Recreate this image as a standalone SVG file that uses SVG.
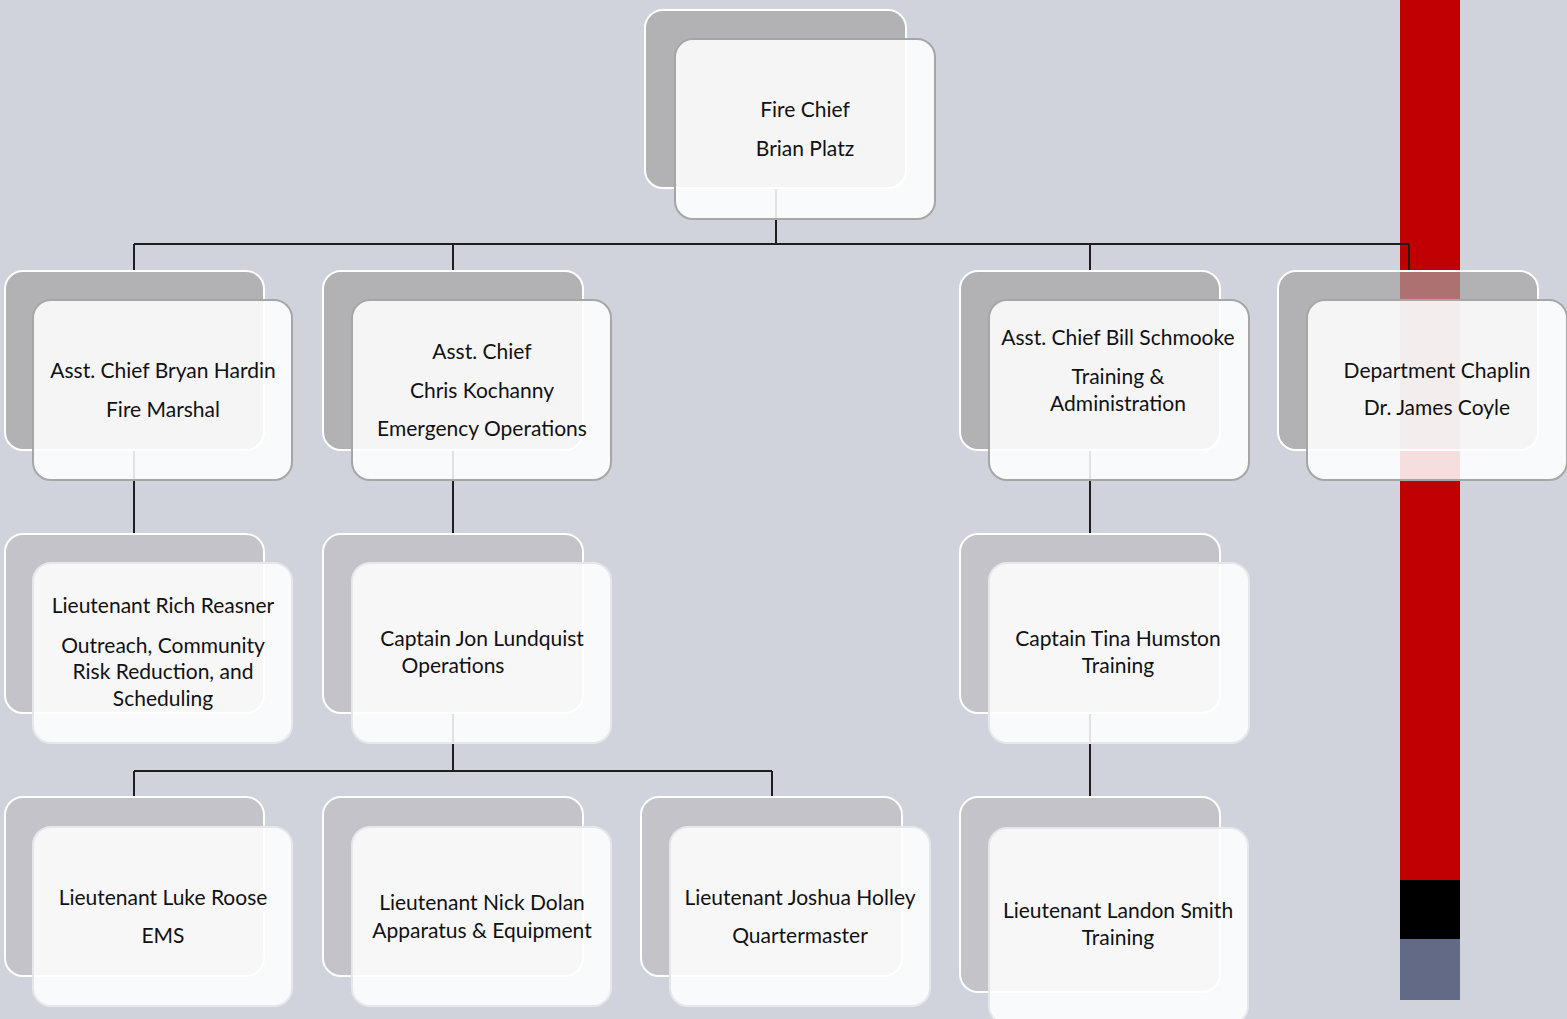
<svg xmlns="http://www.w3.org/2000/svg" width="1567" height="1019" viewBox="0 0 1567 1019">
<style>
.bk{fill:#A3A3A3;fill-opacity:0.69;stroke:#FFFFFF;stroke-width:2}
.bk2{fill:#BCBDC0;fill-opacity:0.69;stroke:#FFFFFF;stroke-width:2}
.fr{fill:#FFFFFF;fill-opacity:0.87;stroke:#A6A6A6;stroke-width:2}
.fr2{fill:#FFFFFF;fill-opacity:0.87;stroke:#E6E7EA;stroke-width:2}
text{font-family:Lato,"Liberation Sans",sans-serif;font-size:21px;fill:#111111;text-anchor:middle}
.cn{fill:none;stroke:#1E1E1E;stroke-width:2}
</style>
<rect x="0" y="0" width="1567" height="1019" fill="#D0D3DB"/>
<rect x="1400" y="0" width="60" height="880" fill="#C00000"/>
<rect x="1400" y="880" width="60" height="59" fill="#000000"/>
<rect x="1400" y="939" width="60" height="61" fill="#636A86"/>
<g id="connectors">
<path class="cn" d="M776 188V244M134 244H1409M134 244V271M453 244V271M1090 244V271M1409 244V271"/>
<path class="cn" d="M134 450V534M453 450V534M1090 450V534"/>
<path class="cn" d="M453 713V771M134 771H772M134 771V797M772 771V797"/>
<path class="cn" d="M1090 713V797"/>
</g>
<g id="fire-chief">
<rect class="bk" x="645" y="10" width="261" height="178" rx="18"/>
<rect class="fr" x="675" y="39" width="260" height="180" rx="18"/>
<text x="805" y="117">Fire Chief</text>
<text x="805" y="156">Brian Platz</text>
</g>
<g id="hardin">
<rect class="bk" x="5" y="271" width="259" height="179" rx="18"/>
<rect class="fr" x="33" y="300" width="259" height="180" rx="18"/>
<text x="163" y="378">Asst. Chief Bryan Hardin</text>
<text x="163" y="417">Fire Marshal</text>
</g>
<g id="kochanny">
<rect class="bk" x="323" y="271" width="260" height="179" rx="18"/>
<rect class="fr" x="352" y="300" width="259" height="180" rx="18"/>
<text x="482" y="359">Asst. Chief</text>
<text x="482" y="398">Chris Kochanny</text>
<text x="482" y="436">Emergency Operations</text>
</g>
<g id="schmooke">
<rect class="bk" x="960" y="271" width="260" height="179" rx="18"/>
<rect class="fr" x="989" y="300" width="260" height="180" rx="18"/>
<text x="1118" y="345">Asst. Chief Bill Schmooke</text>
<text x="1118" y="384">Training &amp;</text>
<text x="1118" y="411">Administration</text>
</g>
<g id="chaplin">
<rect class="bk" x="1278" y="271" width="260" height="179" rx="18"/>
<rect class="fr" x="1307" y="300" width="260" height="180" rx="18"/>
<text x="1437" y="378">Department Chaplin</text>
<text x="1437" y="415">Dr. James Coyle</text>
</g>
<g id="reasner">
<rect class="bk2" x="5" y="534" width="259" height="179" rx="18"/>
<rect class="fr2" x="33" y="563" width="259" height="180" rx="18"/>
<text x="163" y="613">Lieutenant Rich Reasner</text>
<text x="163" y="653">Outreach, Community</text>
<text x="163" y="679">Risk Reduction, and</text>
<text x="163" y="706">Scheduling</text>
</g>
<g id="lundquist">
<rect class="bk2" x="323" y="534" width="260" height="179" rx="18"/>
<rect class="fr2" x="352" y="563" width="259" height="180" rx="18"/>
<text x="482" y="646">Captain Jon Lundquist</text>
<text x="453" y="673">Operations</text>
</g>
<g id="humston">
<rect class="bk2" x="960" y="534" width="260" height="179" rx="18"/>
<rect class="fr2" x="989" y="563" width="260" height="180" rx="18"/>
<text x="1118" y="646">Captain Tina Humston</text>
<text x="1118" y="673">Training</text>
</g>
<g id="roose">
<rect class="bk2" x="5" y="797" width="259" height="179" rx="18"/>
<rect class="fr2" x="33" y="827" width="259" height="179" rx="18"/>
<text x="163" y="905">Lieutenant Luke Roose</text>
<text x="163" y="943">EMS</text>
</g>
<g id="dolan">
<rect class="bk2" x="323" y="797" width="260" height="179" rx="18"/>
<rect class="fr2" x="352" y="827" width="259" height="179" rx="18"/>
<text x="482" y="910">Lieutenant Nick Dolan</text>
<text x="482" y="938">Apparatus &amp; Equipment</text>
</g>
<g id="holley">
<rect class="bk2" x="641" y="797" width="261" height="179" rx="18"/>
<rect class="fr2" x="670" y="827" width="260" height="179" rx="18"/>
<text x="800" y="905">Lieutenant Joshua Holley</text>
<text x="800" y="943">Quartermaster</text>
</g>
<g id="smith">
<rect class="bk2" x="960" y="797" width="260" height="195" rx="18"/>
<rect class="fr2" x="989" y="828" width="259" height="196" rx="18"/>
<text x="1118" y="918">Lieutenant Landon Smith</text>
<text x="1118" y="945">Training</text>
</g>
</svg>
